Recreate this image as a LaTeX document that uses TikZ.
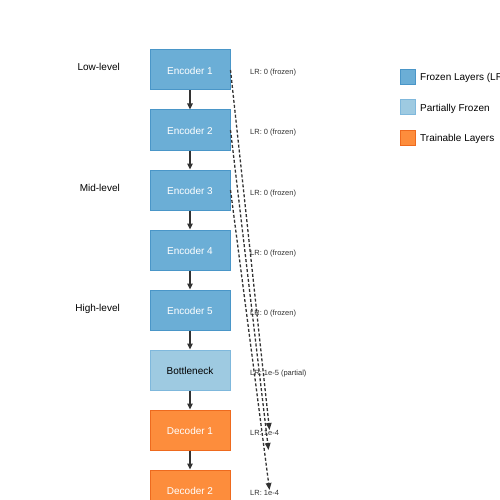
\documentclass[tikz,border=0pt]{standalone}
\usepackage{fontspec}
\setmainfont{Liberation Sans}
\usetikzlibrary{arrows.meta}
\definecolor{frozen}{HTML}{6BAED6}
\definecolor{frozenb}{HTML}{4A96C8}
\definecolor{partial}{HTML}{9ECAE1}
\definecolor{partialb}{HTML}{7FB8DC}
\definecolor{train}{HTML}{FD8D3C}
\definecolor{trainb}{HTML}{EE6A1E}
\definecolor{dk}{HTML}{333333}
\newcommand{\lowtxt}[1]{\raisebox{-1pt}[\height][\depth]{#1}}
\tikzset{
  layer/.style={minimum width=80pt,minimum height=40pt,inner sep=0pt,line width=1pt,font=\fontsize{10}{12}\selectfont},
  fr/.style={layer,fill=frozen,draw=frozenb,text=white},
  pa/.style={layer,fill=partial,draw=partialb,text=black},
  tr/.style={layer,fill=train,draw=trainb,text=white},
  flow/.style={draw=dk,line width=1.5pt,-{Triangle[length=6pt,width=5.5pt]}},
  skip/.style={draw=dk,line width=1.3pt,dash pattern=on 3pt off 2pt,-{Triangle[length=7pt,width=5.5pt]}},
  lr/.style={anchor=base west,inner sep=0pt,text=dk,font=\fontsize{7.5}{9}\selectfont},
  lvl/.style={anchor=base east,inner sep=0pt,font=\fontsize{10}{12}\selectfont},
  leg/.style={minimum size=15pt,inner sep=0pt,line width=1pt},
  legt/.style={anchor=base west,inner sep=0pt,font=\fontsize{10}{12}\selectfont}
}
\begin{document}
\begin{tikzpicture}[x=1pt,y=-1pt]
\useasboundingbox (0,0) rectangle (500,500);
\clip (0,0) rectangle (500,500);
\fill[white] (0,0) rectangle (500,500);
\node[fr] (e1) at (190,70) {\lowtxt{Encoder 1}};
\node[fr] (e2) at (190,130) {\lowtxt{Encoder 2}};
\node[fr] (e3) at (190,190) {\lowtxt{Encoder 3}};
\node[fr] (e4) at (190,250) {\lowtxt{Encoder 4}};
\node[fr] (e5) at (190,310) {\lowtxt{Encoder 5}};
\node[pa] (bn) at (190,370) {\lowtxt{Bottleneck}};
\node[tr] (d1) at (190,430) {\lowtxt{Decoder 1}};
\node[tr] (d2) at (190,490) {\lowtxt{Decoder 2}};
\draw[flow] (e1) -- (e2);
\draw[flow] (e2) -- (e3);
\draw[flow] (e3) -- (e4);
\draw[flow] (e4) -- (e5);
\draw[flow] (e5) -- (bn);
\draw[flow] (bn) -- (d1);
\draw[flow] (d1) -- (d2);
\node[lvl] (l1) at (120,71) {Low-level};
\node[lvl] (l2) at (120,191) {Mid-level};
\node[lvl] (l3) at (120,311) {High-level};
\node[lr] (r1) at (250,75) {LR: 0 (frozen)};
\node[lr] (r2) at (250,135) {LR: 0 (frozen)};
\node[lr] (r3) at (250,195) {LR: 0 (frozen)};
\node[lr] (r4) at (250,255) {LR: 0 (frozen)};
\node[lr] (r5) at (250,315) {LR: 0 (frozen)};
\node[lr] (r6) at (250,375) {LR: 1e-5 (partial)};
\node[lr] (r7) at (250,435) {LR: 1e-4};
\node[lr] (r8) at (250,495) {LR: 1e-4};
\coordinate (t1) at (269.5,430);
\coordinate (t2) at (268.5,450);
\coordinate (t3) at (269.5,490);
\draw[skip] (e1.east) -- (t1);
\draw[skip] (e2.east) -- (t2);
\draw[skip] (e3.east) -- (t3);
\node[leg,fill=frozen,draw=frozenb] (k1) at (407.5,77.5) {};
\node[leg,fill=partial,draw=partialb] (k2) at (407.5,107.5) {};
\node[leg,fill=train,draw=trainb] (k3) at (407.5,137.5) {};
\node[legt] (k1t) at (420,81) {Frozen Layers (LR = 0)};
\node[legt] (k2t) at (420,111) {Partially Frozen};
\node[legt] (k3t) at (420,141) {Trainable Layers};
\end{tikzpicture}
\end{document}
